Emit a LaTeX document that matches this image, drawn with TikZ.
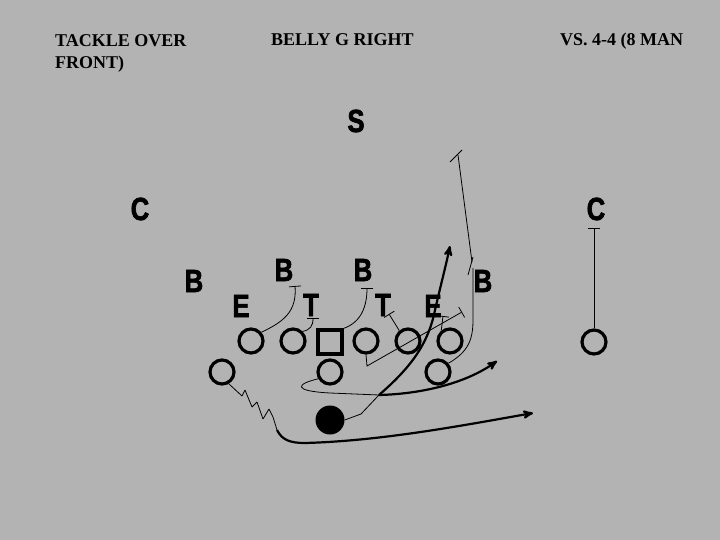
\documentclass[tikz,border=0pt]{standalone}
\usepackage{fontspec}
\setmainfont{Liberation Serif}
\newfontfamily\tegn[FakeStretch=0.8, FakeBold=2]{Liberation Sans}
\usetikzlibrary{arrows,arrows.meta}
\definecolor{field}{RGB}{179,179,179}
\tikzset{
>=stealth',
  title/.style={
    font=\bfseries\fontsize{18}{22}\selectfont,
    inner sep=0pt},
  defender/.style={
    font=\tegn\bfseries\fontsize{32}{32}\selectfont,
    inner sep=0pt},
  player/.style={
    circle,
    draw=black, line width=3.2pt,
    minimum size=24pt,
    inner sep=0pt},
  snapper/.style={
    rectangle,
    draw=black, line width=3.2pt,
    minimum size=24pt,
    inner sep=0pt},
  carrier/.style={circle, fill=black, minimum size=29pt, inner sep=0pt},
  block/.style={draw, line width=0.8pt, -{Bar[width=12pt]}},
  thin/.style={draw, line width=0.8pt},
  run/.style={draw, line width=2.2pt, ->},
}

\begin{document}
\begin{tikzpicture}[x=1pt, y=-1pt]
    \fill[field] (0,0) rectangle (720,540);
    \useasboundingbox (0,0) rectangle (720,540);
    % titles
    \node[title, anchor=north west, align=left] (front) at (55,34)
        {TACKLE OVER\\FRONT)};
    \node[title, anchor=base west] (play) at (271,46) {BELLY G RIGHT};
    \node[title, anchor=base west] (vs)   at (560,46) {VS. 4-4 (8 MAN};
    % defense
    \node[defender] (s)   at (356,121) {S};
    \node[defender] (cl)  at (140,209) {C};
    \node[defender] (cr)  at (596,209) {C};
    \node[defender] (bl)  at (194,281) {B};
    \node[defender] (bil) at (284,270) {B};
    \node[defender] (bir) at (363,270) {B};
    \node[defender] (br)  at (483,281) {B};
    \node[defender] (el)  at (241,306) {E};
    \node[defender] (tl)  at (311,305) {T};
    \node[defender] (tr)  at (383,305) {T};
    \node[defender] (er)  at (433,306) {E};
    % offense
    \node[player]  (lt) at (251,341) {};
    \node[player]  (lg) at (293,341) {};
    \node[snapper] (cc) at (330,342) {};
    \node[player]  (rg) at (366,341) {};
    \node[player]  (rt) at (408,341) {};
    \node[player]  (te) at (450,341) {};
    \node[player]  (se) at (594,342) {};
    \node[player]  (lh) at (222,372) {};
    \node[player]  (fb) at (330,372) {};
    \node[player]  (rh) at (438,372) {};
    \node[carrier] (qb) at (330,420) {};
    % blocks
    \coordinate (kbil) at (295,286);
    \coordinate (ktl)  at (313,318);
    \coordinate (kbir) at (367,288);
    \coordinate (ktr)  at (389,314);
    \coordinate (ker)  at (443,316);
    \coordinate (kdia) at (462,312);
    \coordinate (kcr)  at (594,228);
    \draw[block] (lt.40) .. controls (283,322) and (297,312) .. (kbil);
    \draw[block] (lg.45) .. controls (310,330) and (313,326) .. (ktl);
    \draw[block] (cc.north east) .. controls (362,322) and (367,305) .. (kbir);
    \draw[block] (rt.130) -- (ktr);
    \draw[block] (te.130) -- (ker);
    \draw[block] (rg.south) -- (367,366) -- (kdia);
    \draw[block] (se) -- (kcr);
    % wing route
    \coordinate (wtop) at (458,155);
    \draw[thin] (rh.40) .. controls (468,352) and (473,340) .. (473,320)
        -- (473,268) (472,262) -- (wtop);
    \draw[thin] (468,275) -- (473,257);
    \draw[thin] (450,162) -- (462,150);
    % belly
    \coordinate (mesh) at (379,395);
    \draw[thin] (qb.east) -- (361,414) -- (mesh);
    \draw[thin] (fb.210) .. controls (296,384) and (292,391) .. (330,393)
        -- (mesh);
    \draw[run] (mesh) .. controls (410,368) and (428,345) .. (435,310)
        .. controls (442,280) and (446,265) .. (450,246);
    \draw[run] (mesh) .. controls (420,394) and (465,384) .. (497,361);
    % pitch
    \coordinate (zz) at (277,430);
    \draw[thin, line join=bevel] (lh.-60) -- (242,396) -- (245,390) -- (252,407)
        -- (257,402) -- (263,419) -- (269,409) -- (273,417) -- (zz);
    \draw[run] (zz) .. controls (282,440) and (290,443) .. (305,443)
        .. controls (380,441) and (460,426) .. (533,413);
\end{tikzpicture}
\end{document}
